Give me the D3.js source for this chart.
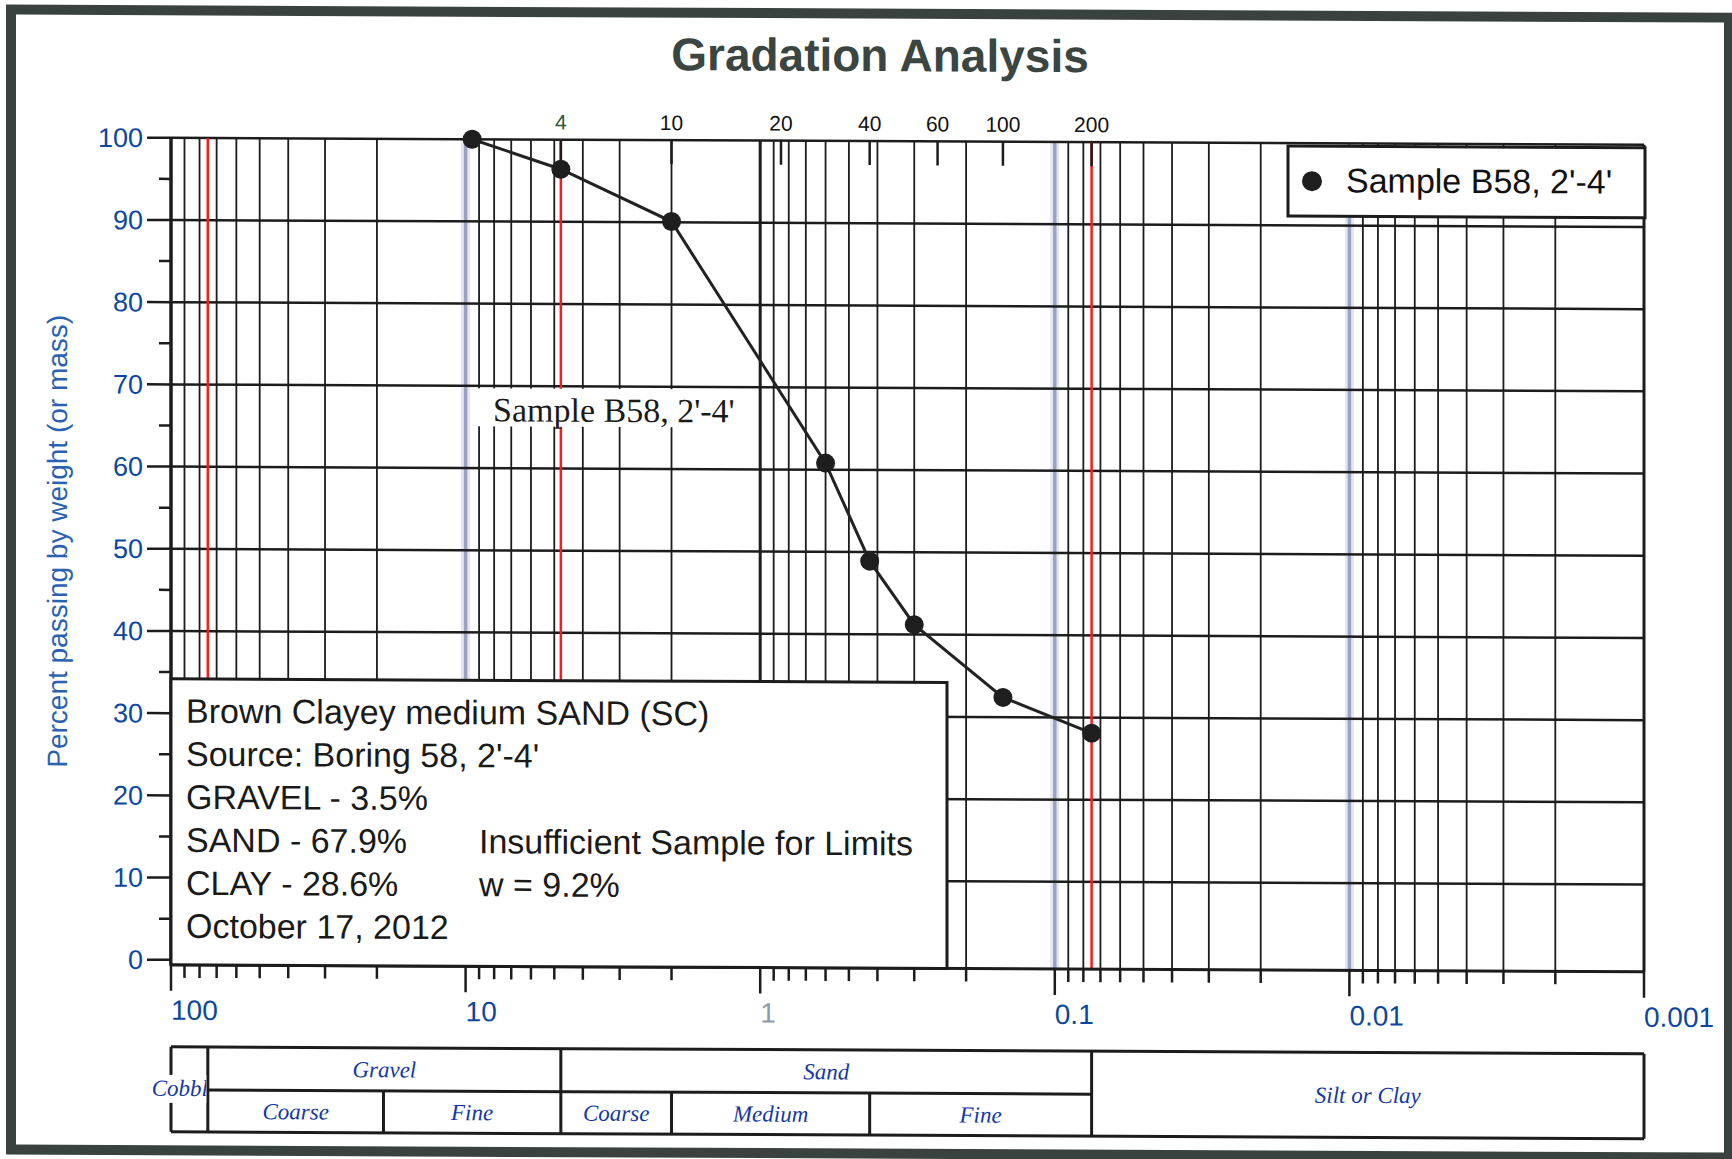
<!DOCTYPE html>
<html>
<head>
<meta charset="utf-8">
<script src="https://cdn.jsdelivr.net/npm/d3@7"></script>
<style>
  body { margin: 0; background: #fff; }
  svg { display: block; }
</style>
</head>
<body>
<div id="chart"></div>
<script>
// sieve opening (mm) vs percent passing
const sieveSizes = [9.5, 4.75, 2.0, 0.6, 0.425, 0.3, 0.15, 0.075];
const percentPassing = [100, 96.4, 90.1, 60.8, 48.9, 41.2, 32.4, 28.1];
const seriesName = "Sample B58, 2'-4'";

// sieve numbers along the top
const sieveNumbers = ['4', '10', '20', '40', '60', '100', '200'];
const sieveOpenings = [4.75, 2.0, 0.85, 0.425, 0.25, 0.15, 0.075];

const xTickValues = [100, 10, 1, 0.1, 0.01, 0.001];
const xTickLabels = ['100', '10', '1', '0.1', '0.01', '0.001'];
const yTickValues = [0, 10, 20, 30, 40, 50, 60, 70, 80, 90, 100];

const boundaryLines = [75, 4.75, 0.075];
const decadeLines = [10, 0.1, 0.01];

// soil classification strip
const classGroups = ['Gravel', 'Sand'];
const classGroupBounds = [[75, 4.75], [4.75, 0.075]];
const classSubs = ['Coarse', 'Fine', 'Coarse', 'Medium', 'Fine'];
const classSubBounds = [[75, 19], [19, 4.75], [4.75, 2], [2, 0.425], [0.425, 0.075]];
const cobbleBounds = [100, 75];
const fineBounds = [0.075, 0.001];

const infoLeft = ['Brown Clayey medium SAND (SC)', "Source: Boring 58, 2'-4'", 'GRAVEL - 3.5%',
                  'SAND - 67.9%', 'CLAY - 28.6%', 'October 17, 2012'];
const infoRight = ['', '', '', 'Insufficient Sample for Limits', 'w = 9.2%', ''];

const W = 1732, H = 1159;
const sans = "'Liberation Sans', Arial, sans-serif";
const serif = "'Liberation Serif', 'Times New Roman', serif";
const blue = '#0b47a0';
const ink = '#1c1c1c';

const svg = d3.select('#chart').append('svg').attr('width', W).attr('height', H);
svg.append('rect').attr('width', W).attr('height', H).attr('fill', '#fff');

// the scanned sheet is slightly skewed
const root = svg.append('g').attr('transform', 'skewY(0.27)');

const x = d3.scaleLog().domain([100, 0.001]).range([171, 1644]);
const y = d3.scaleLinear().domain([0, 100]).range([959, 137]);
const axisY = 964;

const isDecade = v => Math.abs(Math.log10(v) - Math.round(Math.log10(v))) < 1e-9;
const allTicks = x.ticks();
const minor = allTicks.filter(v => !isDecade(v));

/* vertical grid */
const grid = root.append('g');
grid.selectAll('.vminor').data(minor).join('line')
    .attr('x1', d => x(d)).attr('x2', d => x(d))
    .attr('y1', y(100)).attr('y2', axisY)
    .attr('stroke', ink).attr('stroke-width', 1.8);

grid.selectAll('.vmajor').data([100, 1, 0.001]).join('line')
    .attr('x1', d => x(d)).attr('x2', d => x(d))
    .attr('y1', y(100)).attr('y2', axisY)
    .attr('stroke', ink).attr('stroke-width', 3);

grid.selectAll('.halo').data(decadeLines).join('line')
    .attr('x1', d => x(d)).attr('x2', d => x(d))
    .attr('y1', y(100)).attr('y2', axisY)
    .attr('stroke', '#e4e6f0').attr('stroke-width', 9);
grid.selectAll('.vdecade').data(decadeLines).join('line')
    .attr('x1', d => x(d)).attr('x2', d => x(d))
    .attr('y1', y(100)).attr('y2', axisY)
    .attr('stroke', '#9aa2c4').attr('stroke-width', 3.5);

/* horizontal grid */
grid.selectAll('.hgrid').data(yTickValues.filter(d => d > 0)).join('line')
    .attr('x1', x(100)).attr('x2', x(0.001))
    .attr('y1', d => y(d)).attr('y2', d => y(d))
    .attr('stroke', ink).attr('stroke-width', 2.5);

/* red boundary lines */
grid.selectAll('.bound').data(boundaryLines).join('line')
    .attr('x1', d => x(d)).attr('x2', d => x(d))
    .attr('y1', y(100)).attr('y2', axisY)
    .attr('stroke', '#ff1a1a').attr('stroke-width', 2.5);

/* sieve number ticks along the top */
grid.selectAll('.sieveTick').data(sieveOpenings).join('line')
    .attr('x1', d => x(d)).attr('x2', d => x(d))
    .attr('y1', y(100)).attr('y2', y(100) + 24)
    .attr('stroke', ink).attr('stroke-width', 2.5);
root.selectAll('.sieveLabel').data(sieveNumbers).join('text')
    .attr('x', (d, i) => x(sieveOpenings[i]))
    .attr('y', 127)
    .attr('text-anchor', 'middle')
    .style('font-family', sans).style('font-size', '21px')
    .style('fill', (d, i) => i === 0 ? '#2f5a3a' : '#111')
    .text(d => d);

/* axes */
const axes = root.append('g');
axes.append('line')
    .attr('x1', x(100)).attr('x2', x(100)).attr('y1', y(100)).attr('y2', axisY)
    .attr('stroke', ink).attr('stroke-width', 3);
axes.append('line')
    .attr('x1', x(100) - 1).attr('x2', x(0.001) + 1).attr('y1', axisY).attr('y2', axisY)
    .attr('stroke', ink).attr('stroke-width', 3);

axes.selectAll('.ytick').data(yTickValues).join('line')
    .attr('x1', x(100) - 24).attr('x2', x(100))
    .attr('y1', d => y(d)).attr('y2', d => y(d))
    .attr('stroke', ink).attr('stroke-width', 2.5);
axes.selectAll('.ytickMinor').data(yTickValues.slice(1).map(d => d - 5)).join('line')
    .attr('x1', x(100) - 12).attr('x2', x(100))
    .attr('y1', d => y(d)).attr('y2', d => y(d))
    .attr('stroke', ink).attr('stroke-width', 2.5);
axes.selectAll('.ylabel').data(yTickValues).join('text')
    .attr('x', x(100) - 28).attr('y', d => y(d)).attr('dy', '0.35em')
    .attr('text-anchor', 'end')
    .style('font-family', sans).style('font-size', '27px').style('fill', blue)
    .text(d => d);

axes.append('text')
    .attr('transform', 'translate(67, 541) rotate(-90)')
    .attr('text-anchor', 'middle')
    .style('font-family', sans).style('font-size', '28px').style('fill', '#2a62b2')
    .text('Percent passing by weight (or mass)');

axes.selectAll('.xtick').data(allTicks).join('line')
    .attr('x1', d => x(d)).attr('x2', d => x(d))
    .attr('y1', axisY).attr('y2', d => axisY + (isDecade(d) ? 26 : 13))
    .attr('stroke', ink).attr('stroke-width', 2.5);
axes.selectAll('.xlabel').data(xTickLabels).join('text')
    .attr('x', (d, i) => x(xTickValues[i]))
    .attr('y', 1019)
    .style('font-family', sans).style('font-size', '28px')
    .style('fill', d => d === '1' ? '#8d9aab' : blue)
    .text(d => d);

/* sample curve */
const pts = sieveSizes.map((s, i) => [s, percentPassing[i]]);
const line = d3.line().x(d => x(d[0])).y(d => y(d[1]));
root.append('path').datum(pts)
    .attr('d', line)
    .attr('fill', 'none').attr('stroke', '#222').attr('stroke-width', 3);
root.selectAll('.dot').data(pts).join('circle')
    .attr('cx', d => x(d[0])).attr('cy', d => y(d[1])).attr('r', 9.5)
    .attr('fill', '#1e1e1e');

/* curve label */
const tag = root.append('g');
tag.append('rect')
    .attr('x', 472).attr('y', 386).attr('width', 278).attr('height', 38)
    .attr('fill', '#fff');
tag.append('text')
    .attr('x', 493).attr('y', 419)
    .style('font-family', serif).style('font-size', '34px').style('fill', '#1a1a1a')
    .text(seriesName);

/* legend */
const legend = root.append('g');
legend.append('rect')
    .attr('x', 1288).attr('y', 140).attr('width', 357).attr('height', 70)
    .attr('fill', '#fff').attr('stroke', ink).attr('stroke-width', 3);
legend.append('circle').attr('cx', 1312).attr('cy', 175).attr('r', 10).attr('fill', '#1e1e1e');
legend.append('text')
    .attr('x', 1346).attr('y', 186)
    .style('font-family', sans).style('font-size', '34px').style('fill', '#111')
    .text(seriesName);

/* info box */
const info = root.append('g');
info.append('rect')
    .attr('x', x(100)).attr('y', 678).attr('width', 776).attr('height', axisY - 678)
    .attr('fill', '#fff').attr('stroke', ink).attr('stroke-width', 3);
info.selectAll('.infoL').data(infoLeft).join('text')
    .attr('x', 186).attr('y', (d, i) => 722 + i * 43)
    .style('font-family', sans).style('font-size', '34px').style('fill', '#1a1a1a')
    .text(d => d);
info.selectAll('.infoR').data(infoRight).join('text')
    .attr('x', 479).attr('y', (d, i) => 722 + i * 43)
    .style('font-family', sans).style('font-size', '34px').style('fill', '#1a1a1a')
    .text(d => d);

/* classification table */
const tTop = 1046, tMid = 1089, tBot = 1131;
const table = root.append('g')
    .attr('stroke', ink).attr('stroke-width', 3);
table.append('line').attr('x1', x(100)).attr('x2', x(0.001)).attr('y1', tTop).attr('y2', tTop);
table.append('line').attr('x1', x(100)).attr('x2', x(0.001)).attr('y1', tBot).attr('y2', tBot);
table.append('line').attr('x1', x(75)).attr('x2', x(0.075)).attr('y1', tMid).attr('y2', tMid);
table.selectAll('.full').data([100, 75, 4.75, 0.075, 0.001]).join('line')
    .attr('x1', d => x(d)).attr('x2', d => x(d)).attr('y1', tTop).attr('y2', tBot);
table.selectAll('.half').data([19, 2, 0.425]).join('line')
    .attr('x1', d => x(d)).attr('x2', d => x(d)).attr('y1', tMid).attr('y2', tBot);

const labelStyle = sel => sel
    .attr('text-anchor', 'middle')
    .style('font-family', serif).style('font-style', 'italic')
    .style('font-size', '23px').style('fill', '#1238a6');

root.selectAll('.grp').data(classGroups).join('text')
    .attr('x', (d, i) => (x(classGroupBounds[i][0]) + x(classGroupBounds[i][1])) / 2)
    .attr('y', (tTop + tMid) / 2 + 8)
    .call(labelStyle)
    .text(d => d);
root.selectAll('.sub').data(classSubs).join('text')
    .attr('x', (d, i) => (x(classSubBounds[i][0]) + x(classSubBounds[i][1])) / 2)
    .attr('y', (tMid + tBot) / 2 + 8)
    .call(labelStyle)
    .text(d => d);
root.append('text')
    .attr('x', (x(fineBounds[0]) + x(fineBounds[1])) / 2)
    .attr('y', (tTop + tBot) / 2 + 8)
    .call(labelStyle)
    .text('Silt or Clay');

// cobbles label is wider than its cell and gets cut at the cell edge
svg.append('clipPath').attr('id', 'cobbleClip')
    .append('rect').attr('x', 0).attr('y', 0).attr('width', x(cobbleBounds[1]) - 1.5).attr('height', H);
const cob = root.append('g').attr('clip-path', 'url(#cobbleClip)');
cob.append('rect')
    .attr('x', 145).attr('y', 1074).attr('width', 62).attr('height', 28)
    .attr('fill', '#fff');
cob.append('text')
    .attr('x', (x(cobbleBounds[0]) + x(cobbleBounds[1])) / 2)
    .attr('y', 1095)
    .call(labelStyle)
    .text('Cobbles');

/* frame and title */
root.append('rect')
    .attr('x', 11).attr('y', 9.5).attr('width', 1718).attr('height', 1140)
    .attr('fill', 'none').attr('stroke', '#39423f').attr('stroke-width', 10);

root.append('text')
    .attr('x', 880).attr('y', 67)
    .attr('text-anchor', 'middle')
    .style('font-family', sans).style('font-weight', 'bold').style('font-size', '46px')
    .style('fill', '#3b4542')
    .text('Gradation Analysis');
</script>
</body>
</html>
